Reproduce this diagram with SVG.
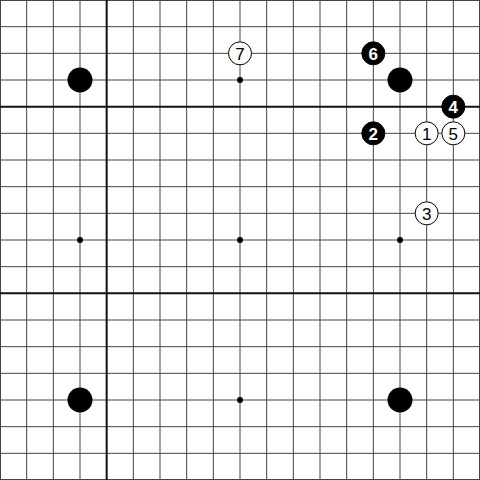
<svg xmlns="http://www.w3.org/2000/svg" width="480" height="480" viewBox="0 0 480 480">
<defs>
<style>
.g{stroke:#444;stroke-width:1;fill:none}
.t{stroke:#111;stroke-width:2;fill:none}
.star{fill:#000}
.big{fill:#000}
.bs{fill:#000;stroke:#000;stroke-width:1}
.ws{fill:#fff;stroke:#000;stroke-width:1}
.bn{fill:#fff;font-family:"Liberation Sans",Arial,sans-serif;font-weight:bold;font-size:17px;text-anchor:middle}
.wn{fill:#000;font-family:"Liberation Sans",Arial,sans-serif;font-size:17px;text-anchor:middle}
</style>
</defs>
<rect width="480" height="480" fill="#fff"/>
<g id="grid">
<path class="g" d="M0.5 0V480M26.67 0V480M53.33 0V480M80 0V480M133.33 0V480M160 0V480M186.67 0V480M213.33 0V480M240 0V480M266.67 0V480M293.33 0V480M320 0V480M346.67 0V480M373.33 0V480M400 0V480M426.67 0V480M453.33 0V480M479.5 0V480"/>
<path class="g" d="M0 0.5H480M0 26.67H480M0 53.33H480M0 80H480M0 133.33H480M0 160H480M0 186.67H480M0 213.33H480M0 240H480M0 266.67H480M0 320H480M0 346.67H480M0 373.33H480M0 400H480M0 426.67H480M0 453.33H480M0 479.5H480"/>
<path class="t" d="M106.67 0V480M0 106.67H480M0 293.33H480"/>
</g>
<g id="stars">
<circle class="star" cx="80" cy="240" r="3"/>
<circle class="star" cx="240" cy="240" r="3"/>
<circle class="star" cx="400" cy="240" r="3"/>
<circle class="star" cx="240" cy="80" r="3"/>
<circle class="star" cx="240" cy="400" r="3"/>
</g>
<g id="handicap">
<circle class="big" cx="80" cy="80" r="12.5"/>
<circle class="big" cx="400" cy="80" r="12.5"/>
<circle class="big" cx="80" cy="400" r="12.5"/>
<circle class="big" cx="400" cy="400" r="12.5"/>
</g>
<g id="m1"><circle class="ws" cx="426.67" cy="133.33" r="11.5"/><text class="wn" x="426.67" y="139.5">1</text></g>
<g id="m2"><circle class="bs" cx="373.33" cy="133.33" r="11.5"/><text class="bn" x="373.33" y="139.5">2</text></g>
<g id="m3"><circle class="ws" cx="426.67" cy="213.33" r="11.5"/><text class="wn" x="426.67" y="219.5">3</text></g>
<g id="m4"><circle class="bs" cx="453.33" cy="106.67" r="11.5"/><text class="bn" x="453.33" y="112.8">4</text></g>
<g id="m5"><circle class="ws" cx="453.33" cy="133.33" r="11.5"/><text class="wn" x="453.33" y="139.5">5</text></g>
<g id="m6"><circle class="bs" cx="373.33" cy="53.33" r="11.5"/><text class="bn" x="373.33" y="59.5">6</text></g>
<g id="m7"><circle class="ws" cx="240" cy="53.33" r="11.5"/><text class="wn" x="240" y="59.5">7</text></g>
</svg>
